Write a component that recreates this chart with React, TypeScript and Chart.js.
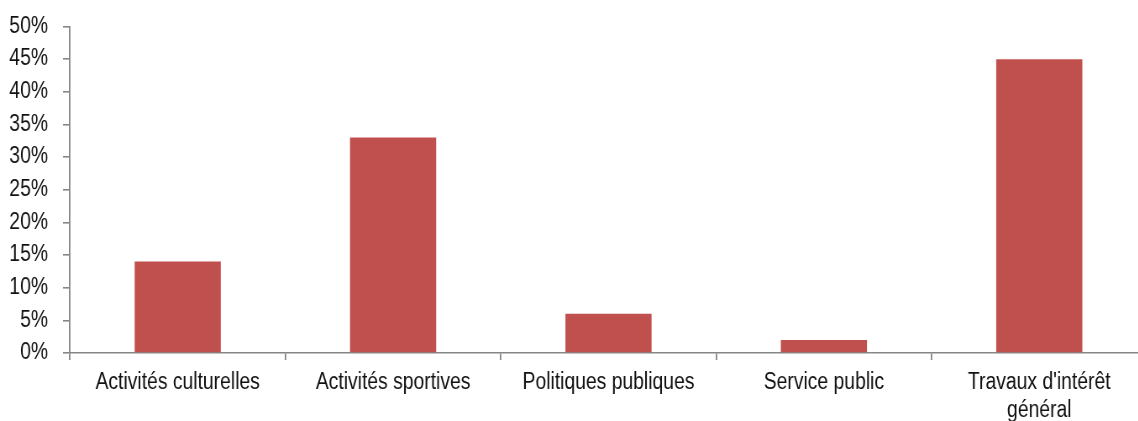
import React, { useEffect, useRef } from "react";
import { Chart, registerables } from "chart.js";

Chart.register(...registerables);

const categories: (string | string[])[] = [
  "Activités culturelles",
  "Activités sportives",
  "Politiques publiques",
  "Service public",
  ["Travaux d'intérêt", "général"],
];
const shares: number[] = [14, 33, 6, 2, 45];
const yTicks: number[] = [0, 5, 10, 15, 20, 25, 30, 35, 40, 45, 50];

// Condensed look: the canvas is drawn wider and squeezed horizontally.
const SQUEEZE = 0.84;
const FONT = "'Liberation Sans', Arial, sans-serif";
const AXIS = "#868686";
const px = (v: number) => v / SQUEEZE;

export default function App() {
  const ref = useRef<HTMLCanvasElement | null>(null);

  useEffect(() => {
    if (!ref.current) return;
    const chart = new Chart(ref.current, {
      type: "bar",
      data: {
        labels: categories,
        datasets: [
          {
            data: shares,
            backgroundColor: "#C0504D",
            barPercentage: 0.4,
            categoryPercentage: 1,
          },
        ],
      },
      options: {
        responsive: false,
        animation: false,
        devicePixelRatio: 1,
        layout: { padding: { top: 26.5, right: px(3), left: 0, bottom: 0 } },
        plugins: { legend: { display: false }, tooltip: { enabled: false } },
        scales: {
          x: {
            offset: true,
            grid: {
              offset: true,
              drawOnChartArea: false,
              tickLength: 7,
              color: AXIS,
              lineWidth: 1.8,
            },
            border: { color: AXIS, width: 1.6 },
            ticks: {
              color: "#111",
              font: { family: FONT, size: 23 },
              padding: 9,
              maxRotation: 0,
              autoSkip: false,
            },
            afterFit: (s: any) => {
              s.height = 68;
              s.paddingLeft = 0;
              s.paddingRight = 0;
              s.paddingTop = 0;
              s.paddingBottom = 0;
            },
          },
          y: {
            min: 0,
            max: 50,
            afterBuildTicks: (s: any) => {
              s.ticks = yTicks.map((v) => ({ value: v }));
            },
            grid: {
              drawOnChartArea: false,
              tickLength: px(7),
              color: AXIS,
              lineWidth: 1.6,
            },
            border: { color: AXIS, width: 1.8 },
            ticks: {
              color: "#111",
              font: { family: FONT, size: 23 },
              padding: px(15),
              callback: (v: any) => v + "%",
            },
            afterFit: (s: any) => {
              s.width = px(70);
              s.paddingLeft = 0;
              s.paddingRight = 0;
              s.paddingTop = 0;
              s.paddingBottom = 0;
            },
          },
        },
      },
    });
    return () => chart.destroy();
  }, []);

  const cw = Math.round(px(1150));

  return (
    <div
      style={{
        position: "fixed",
        left: 0,
        top: 0,
        width: 1138,
        height: 421,
        overflow: "hidden",
        background: "#fff",
      }}
    >
      <canvas
        ref={ref}
        width={cw}
        height={421}
        style={{
          display: "block",
          width: cw,
          height: 421,
          transform: `scaleX(${SQUEEZE})`,
          transformOrigin: "0 0",
        }}
      />
    </div>
  );
}
